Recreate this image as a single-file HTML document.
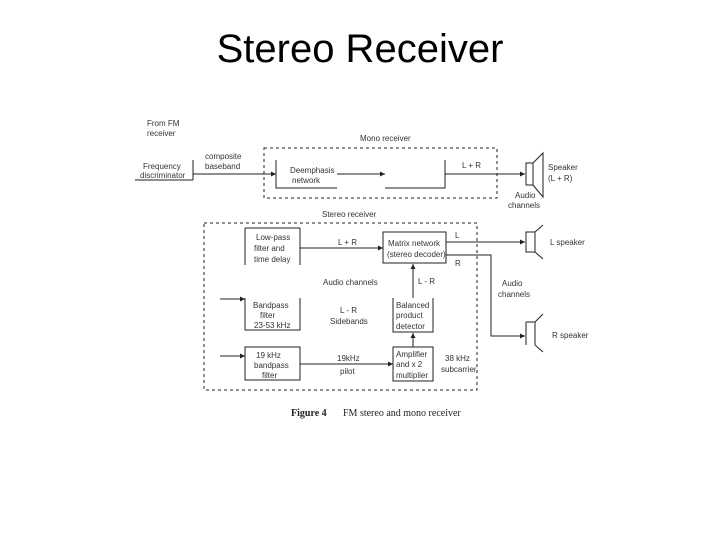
<!DOCTYPE html>
<html><head><meta charset="utf-8"><style>
html,body{margin:0;padding:0;background:#fff;width:720px;height:540px;overflow:hidden}
svg text{font-family:"Liberation Sans",sans-serif;font-size:8px;fill:#333}
</style></head><body>
<svg width="720" height="540" viewBox="0 0 720 540" xmlns="http://www.w3.org/2000/svg">
<defs><marker id="a" markerWidth="6" markerHeight="6" refX="5" refY="3" orient="auto"><path d="M0,0.5 L5,3 L0,5.5z" fill="#222"/></marker></defs>
<text x="360" y="62" text-anchor="middle" style="font-size:40px;fill:#000">Stereo Receiver</text>
<g stroke="#222" stroke-width="1" fill="none">
<path d="M193 160V180M135 180H193"/>
<path d="M193 174H276" marker-end="url(#a)"/>
<rect x="264" y="148" width="233" height="50" stroke-dasharray="3,3"/>
<path d="M276 160V188H337M385 188H445V160"/>
<path d="M337 174H385" marker-end="url(#a)"/>
<path d="M445 174H525" marker-end="url(#a)"/>
<rect x="526" y="163" width="7" height="22"/>
<path d="M533 163L543 153V197L533 185"/>
<rect x="204" y="223" width="273" height="167" stroke-dasharray="3,3"/>
<path d="M245 228V265M300 228V265M245 228H300"/>
<path d="M300 248H383" marker-end="url(#a)"/>
<rect x="383" y="232" width="63" height="31"/>
<path d="M446 242H525" marker-end="url(#a)"/>
<path d="M446 255H491V336H525" marker-end="url(#a)"/>
<rect x="526" y="232" width="9" height="20"/>
<path d="M535 232L543 225M535 252L543 259"/>
<path d="M526 322V345M526 322H535V345M535 322L543 314M535 345L543 352"/>
<path d="M413 298V264" marker-end="url(#a)"/>
<path d="M245 298V330H300V298"/>
<path d="M220 299H245" marker-end="url(#a)"/>
<path d="M393 298V332H433V298"/>
<path d="M413 347V333" marker-end="url(#a)"/>
<rect x="245" y="347" width="55" height="33"/>
<path d="M220 356H245" marker-end="url(#a)"/>
<path d="M300 364H393" marker-end="url(#a)"/>
<rect x="393" y="347" width="40" height="34"/>
</g>
<text x="147" y="126">From FM</text><text x="147" y="136">receiver</text>
<text x="143" y="169">Frequency</text><text x="140" y="178">discriminator</text>
<text x="205" y="159">composite</text><text x="205" y="169">baseband</text>
<text x="360" y="141">Mono receiver</text>
<text x="290" y="173">Deemphasis</text><text x="292" y="183">network</text>
<text x="462" y="168">L + R</text>
<text x="548" y="170">Speaker</text><text x="548" y="181">(L + R)</text>
<text x="515" y="198">Audio</text><text x="508" y="208">channels</text>
<text x="322" y="217">Stereo receiver</text>
<text x="256" y="240">Low-pass</text><text x="254" y="251">filter and</text><text x="254" y="262">time delay</text>
<text x="338" y="245">L + R</text>
<text x="388" y="246">Matrix network</text><text x="387" y="257">(stereo decoder)</text>
<text x="455" y="238">L</text><text x="455" y="266">R</text>
<text x="550" y="245">L speaker</text><text x="552" y="338">R speaker</text>
<text x="502" y="286">Audio</text><text x="498" y="297">channels</text>
<text x="323" y="285">Audio channels</text>
<text x="418" y="284">L - R</text>
<text x="253" y="308">Bandpass</text><text x="260" y="318">filter</text><text x="254" y="328">23-53 kHz</text>
<text x="340" y="313">L - R</text><text x="330" y="324">Sidebands</text>
<text x="396" y="308">Balanced</text><text x="396" y="318">product</text><text x="396" y="329">detector</text>
<text x="256" y="358">19 kHz</text><text x="254" y="368">bandpass</text><text x="262" y="378">filter</text>
<text x="337" y="361">19kHz</text><text x="340" y="374">pilot</text>
<text x="396" y="357">Amplifier</text><text x="396" y="367">and x 2</text><text x="396" y="378">multiplier</text>
<text x="445" y="361">38 kHz</text><text x="441" y="372">subcarrier</text>
<text x="291" y="416" style="font-family:'Liberation Serif',serif;font-size:10px;font-weight:bold;fill:#222">Figure 4</text>
<text x="343" y="416" style="font-family:'Liberation Serif',serif;font-size:10px;fill:#222">FM stereo and mono receiver</text>
</svg>
</body></html>
